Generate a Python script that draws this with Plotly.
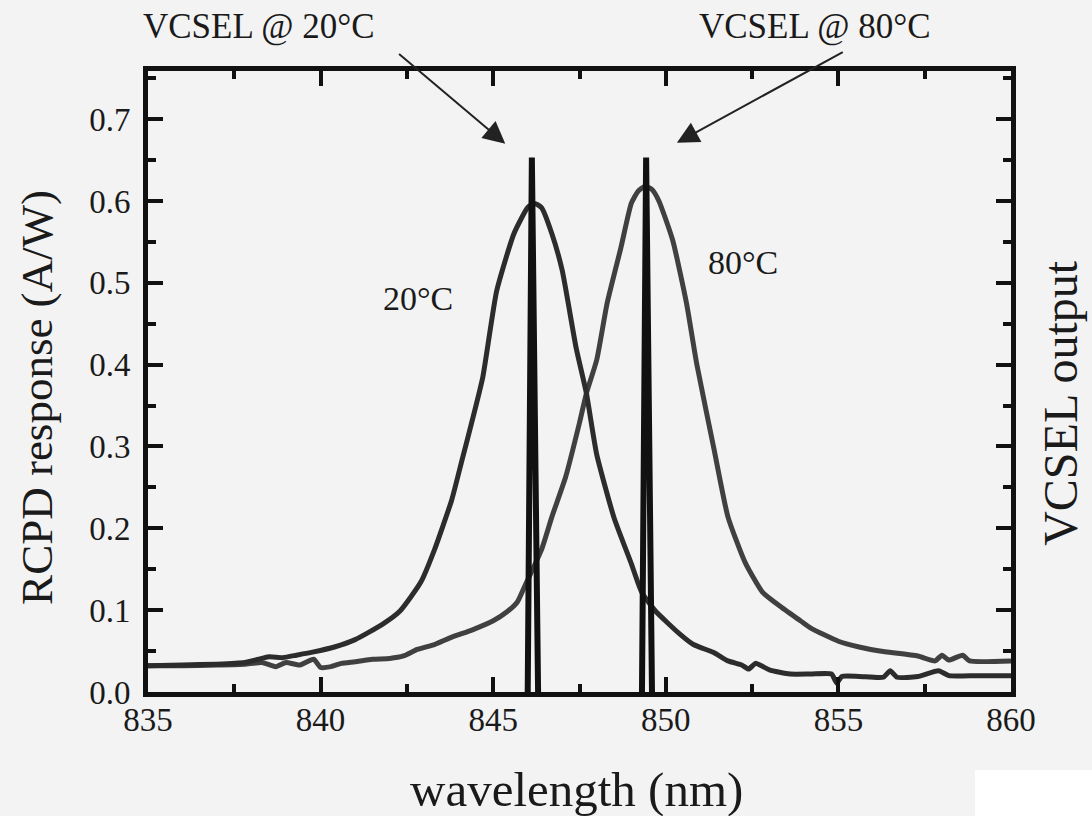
import plotly.graph_objects as go

# RCPD response at 20°C (wavelength nm, A/W)
wl_20 = [835.0, 836.0, 837.0, 837.8, 838.2, 838.5, 838.9, 839.3, 839.8, 840.4, 841.0,
         841.8, 842.3, 842.9, 843.3, 843.8, 844.1, 844.4, 844.7, 845.1, 845.6, 846.0,
         846.2, 846.4, 846.7, 847.0, 847.4, 847.7, 848.0, 848.5, 849.0, 849.3, 849.7,
         850.4, 850.8, 851.4, 851.8, 852.2, 852.4, 852.6, 853.0, 853.6, 854.2, 854.8,
         854.95, 855.1, 855.6, 856.3, 856.5, 856.7, 857.3, 857.9, 858.2, 859.0, 860.0]
resp_20 = [0.032, 0.033, 0.034, 0.036, 0.040, 0.043, 0.042, 0.045, 0.049, 0.055, 0.064,
           0.083, 0.099, 0.134, 0.174, 0.235, 0.284, 0.333, 0.385, 0.490, 0.560, 0.592,
           0.597, 0.592, 0.560, 0.515, 0.421, 0.365, 0.290, 0.213, 0.157, 0.122, 0.099,
           0.071, 0.058, 0.048, 0.038, 0.033, 0.028, 0.035, 0.027, 0.022, 0.022, 0.022,
           0.011, 0.019, 0.019, 0.018, 0.026, 0.018, 0.019, 0.026, 0.020, 0.020, 0.020]

# RCPD response at 80°C
wl_80 = [835.0, 836.0, 837.0, 837.8, 838.3, 838.7, 839.0, 839.4, 839.8, 840.0, 840.3,
         840.6, 841.0, 841.5, 842.0, 842.4, 842.8, 843.3, 843.8, 844.4, 845.0, 845.4,
         845.7, 845.9, 846.4, 846.7, 847.1, 847.5, 847.7, 848.0, 848.3, 848.7, 849.0,
         849.2, 849.4, 849.6, 849.8, 850.2, 850.6, 850.9, 851.4, 851.8, 852.3, 852.8,
         853.3, 853.9, 854.2, 855.0, 855.6, 856.2, 857.3, 857.8, 858.0, 858.2, 858.6,
         858.8, 860.0]
resp_80 = [0.032, 0.032, 0.033, 0.034, 0.036, 0.031, 0.036, 0.033, 0.040, 0.030, 0.031,
           0.035, 0.037, 0.040, 0.041, 0.044, 0.052, 0.058, 0.067, 0.076, 0.087, 0.098,
           0.110, 0.128, 0.174, 0.214, 0.263, 0.329, 0.365, 0.406, 0.475, 0.543, 0.597,
           0.612, 0.618, 0.614, 0.600, 0.552, 0.475, 0.400, 0.296, 0.214, 0.158, 0.122,
           0.105, 0.087, 0.078, 0.062, 0.055, 0.050, 0.044, 0.038, 0.045, 0.039, 0.045,
           0.038, 0.038]

# VCSEL emission lines (relative output, drawn on the same scale)
vcsel20_wl = [846.0, 846.12, 846.3]
vcsel20_out = [0.0, 0.653, 0.0]
vcsel80_wl = [849.31, 849.43, 849.6]
vcsel80_out = [0.0, 0.653, 0.0]

x_ticks = [835, 840, 845, 850, 855, 860]
y_ticks = [0.0, 0.1, 0.2, 0.3, 0.4, 0.5, 0.6, 0.7]

FONT = "Liberation Serif, Times New Roman, serif"
INK = "#1a1a1a"

fig = go.Figure()
fig.add_trace(go.Scatter(x=wl_80, y=resp_80, mode="lines",
                         line=dict(color="#404040", width=5, shape="spline", smoothing=0.5),
                         showlegend=False))
fig.add_trace(go.Scatter(x=wl_20, y=resp_20, mode="lines",
                         line=dict(color="#2c2c2c", width=5, shape="spline", smoothing=0.5),
                         showlegend=False))
fig.add_trace(go.Scatter(x=vcsel20_wl, y=vcsel20_out, mode="lines",
                         line=dict(color="#111111", width=6), showlegend=False))
fig.add_trace(go.Scatter(x=vcsel80_wl, y=vcsel80_out, mode="lines",
                         line=dict(color="#111111", width=6), showlegend=False))

axis_common = dict(
    showgrid=False, zeroline=False, showline=True, linewidth=5, linecolor="#111111",
    mirror="ticks", ticks="inside", ticklen=15, tickwidth=4, tickcolor="#111111",
    tickfont=dict(family=FONT, size=33, color=INK),
)

fig.update_xaxes(range=[835, 860], tickvals=x_ticks, ticktext=[str(v) for v in x_ticks],
                 minor=dict(ticks="inside", ticklen=8, tickwidth=4, tickcolor="#111111",
                            tick0=835, dtick=2.5),
                 ticklabelstandoff=-6, **axis_common)
fig.update_yaxes(range=[0, 0.7588], tickvals=y_ticks, ticktext=[f"{v:.1f}" for v in y_ticks],
                 minor=dict(ticks="inside", ticklen=8, tickwidth=4, tickcolor="#111111",
                            tick0=0, dtick=0.05),
                 ticklabelstandoff=6, **axis_common)

annotations = [
    # axis titles
    dict(text="wavelength (nm)", xref="paper", yref="paper", x=0.497, y=-0.157,
         xanchor="center", yanchor="middle", showarrow=False,
         font=dict(family=FONT, size=49, color=INK)),
    dict(text="RCPD response (A/W)", xref="paper", yref="paper", x=-0.1295, y=0.474,
         xanchor="center", yanchor="middle", textangle=-90, showarrow=False,
         font=dict(family=FONT, size=45, color=INK)),
    dict(text="VCSEL output", xref="paper", yref="paper", x=1.0578, y=0.4655,
         xanchor="center", yanchor="middle", textangle=-90, showarrow=False,
         font=dict(family=FONT, size=48, color=INK)),
    # curve labels
    dict(text="20°C", x=842.83, y=0.481, xref="x", yref="y", showarrow=False,
         font=dict(family=FONT, size=34, color=INK)),
    dict(text="80°C", x=852.25, y=0.525, xref="x", yref="y", showarrow=False,
         font=dict(family=FONT, size=34, color=INK)),
    # top labels (paper coordinates so they are drawn outside the axis range)
    dict(text="VCSEL @ 20°C", x=(259 - 148) / 863, y=(692 - 27) / 621, xref="paper",
         yref="paper", xanchor="center", yanchor="middle", showarrow=False,
         font=dict(family=FONT, size=35, color=INK)),
    dict(text="VCSEL @ 80°C", x=(815 - 148) / 863, y=(692 - 27) / 621, xref="paper",
         yref="paper", xanchor="center", yanchor="middle", showarrow=False,
         font=dict(family=FONT, size=35, color=INK)),
    # arrows
    dict(text="", x=845.35, y=0.670, xref="x", yref="y", ax=842.23, ay=0.781,
         axref="x", ayref="y", showarrow=True, arrowhead=2, arrowsize=2.2,
         arrowwidth=2, arrowcolor="#222222"),
    dict(text="", x=850.32, y=0.671, xref="x", yref="y", ax=855.17, ay=0.783,
         axref="x", ayref="y", showarrow=True, arrowhead=2, arrowsize=2.2,
         arrowwidth=2, arrowcolor="#222222"),
]

fig.update_layout(
    width=1092, height=816,
    margin=dict(l=148, r=81, t=71, b=124),
    paper_bgcolor="#f3f3f3", plot_bgcolor="#f3f3f3",
    font=dict(family=FONT, color=INK),
    annotations=annotations,
    shapes=[dict(type="rect", xref="paper", yref="paper", x0=(975 - 148) / 863, x1=1.2,
                 y0=-0.3, y1=(692 - 770) / 621, fillcolor="#ffffff", line=dict(width=0),
                 layer="below")],
    showlegend=False,
)

fig.write_html("out.html", config={"displayModeBar": False},
               post_script="document.body.style.margin='0';document.body.style.overflow='hidden';")
